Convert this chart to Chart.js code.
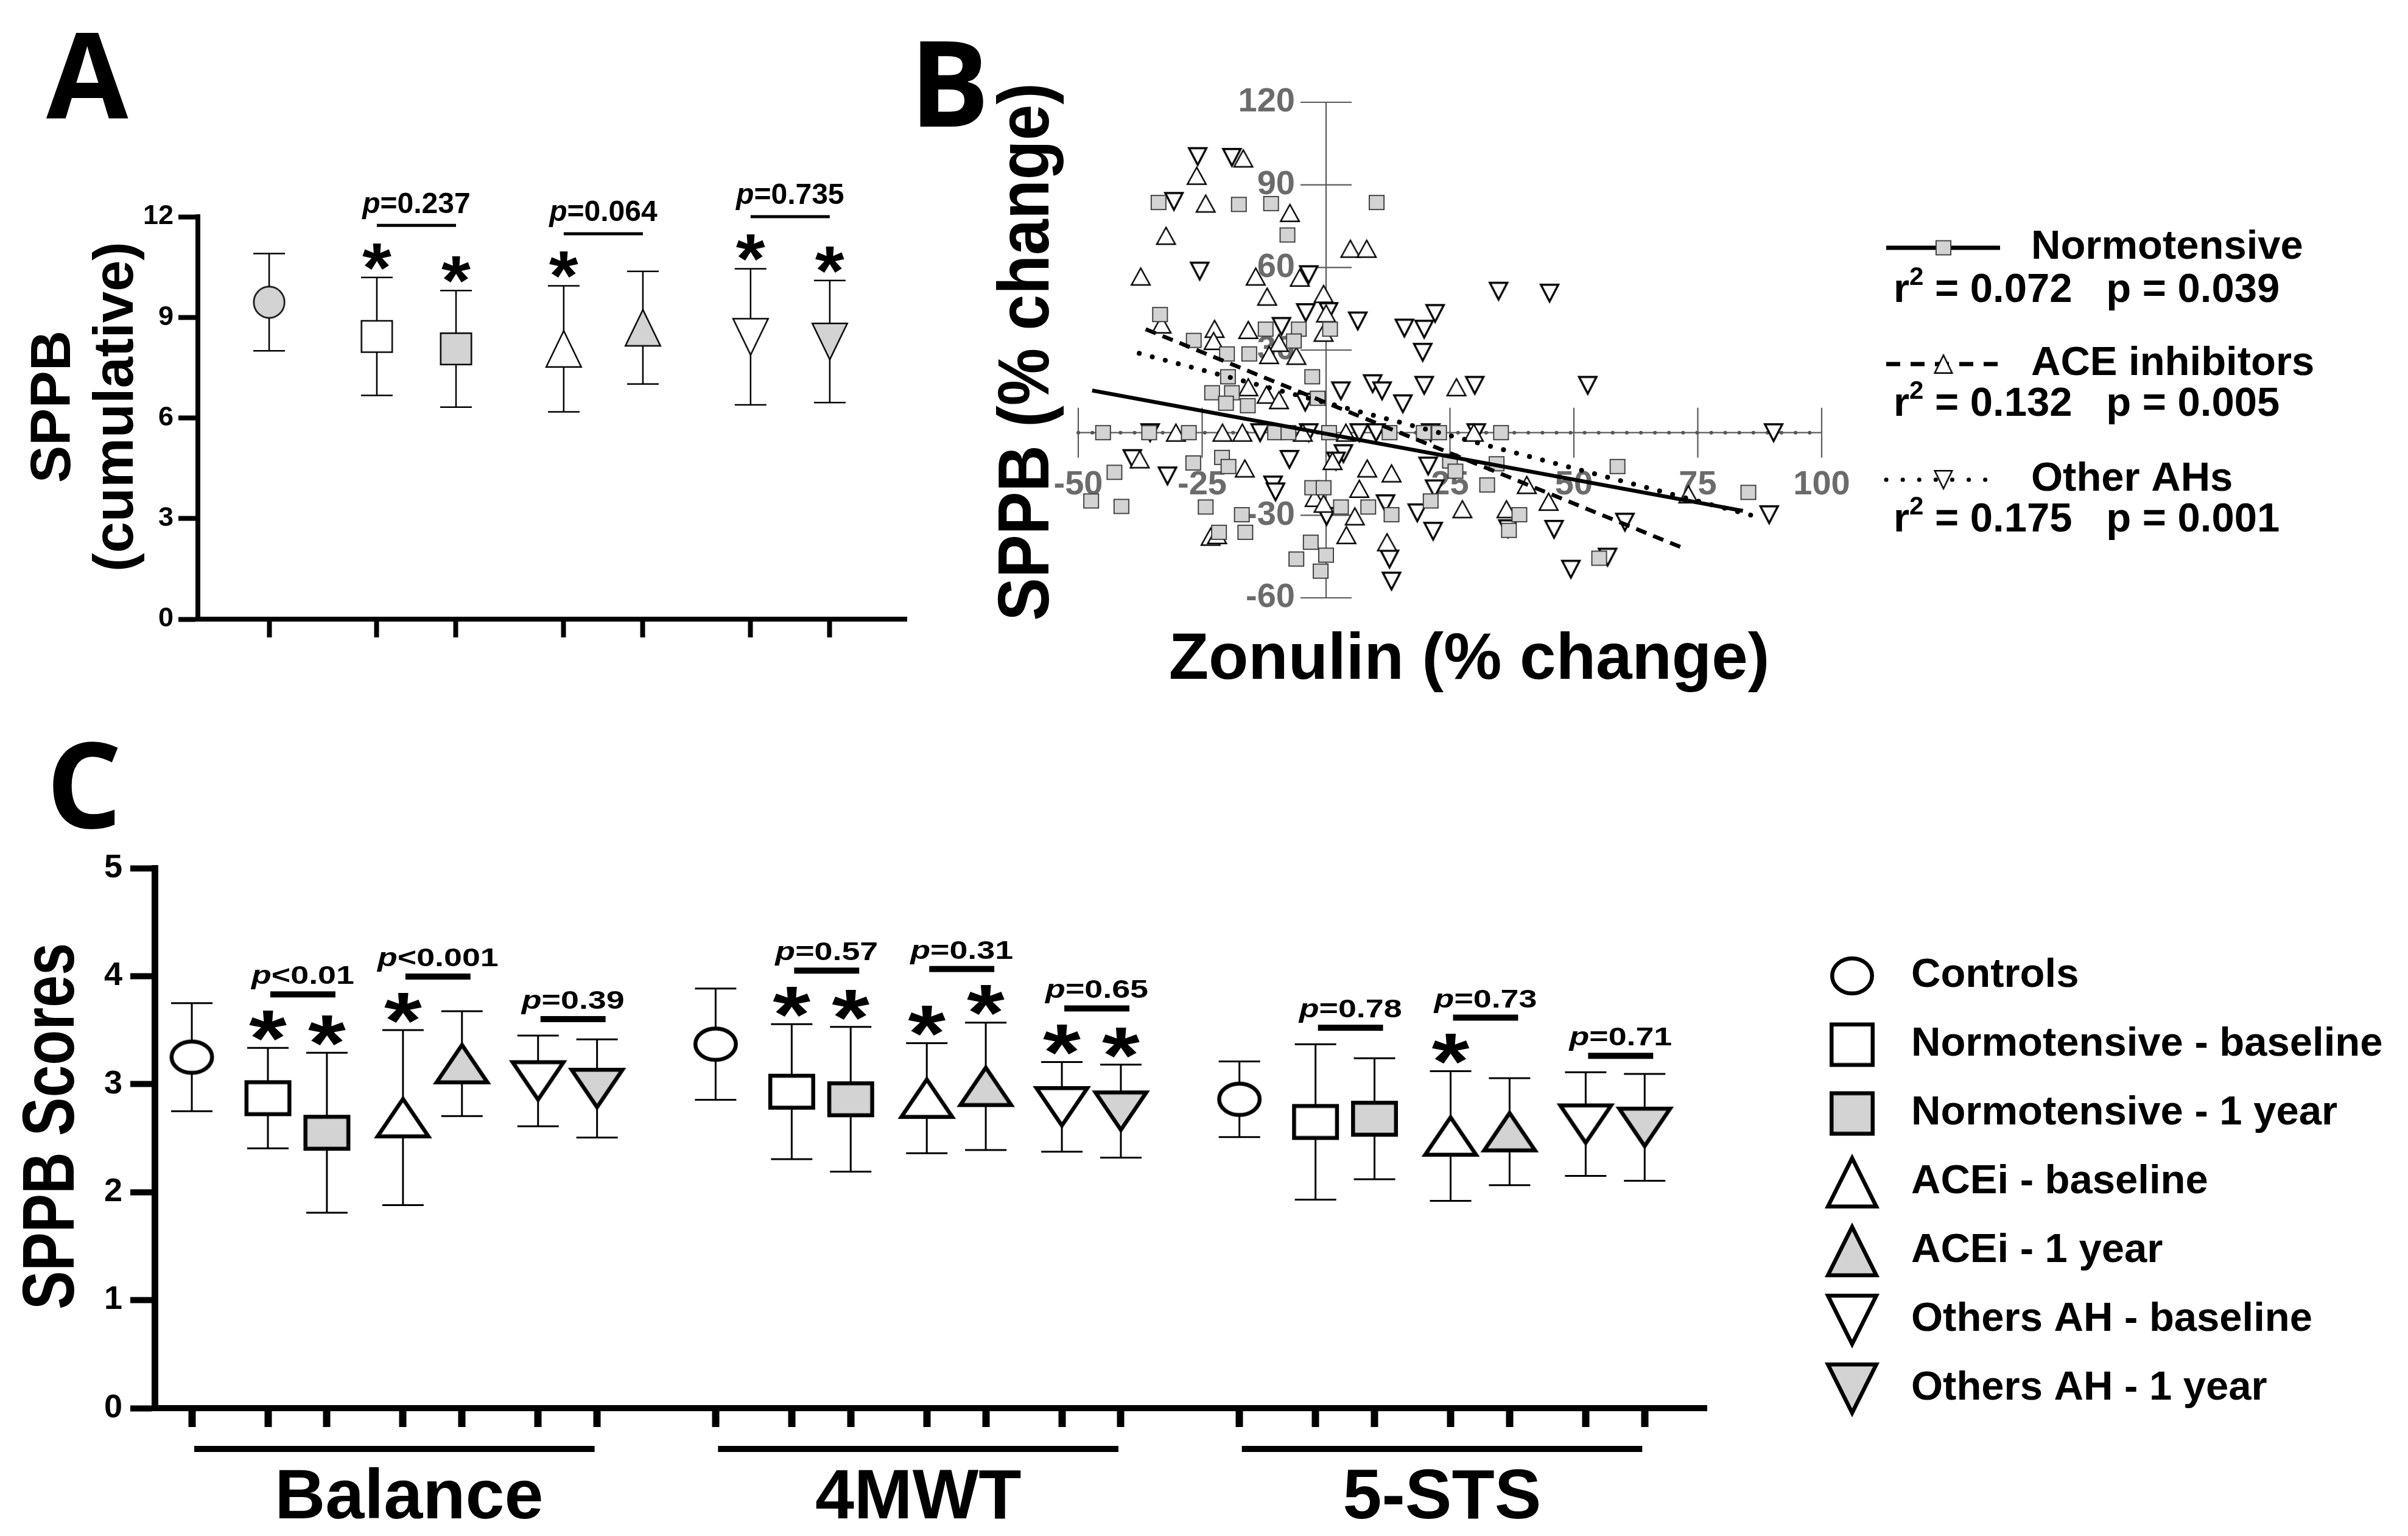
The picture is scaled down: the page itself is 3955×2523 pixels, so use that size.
<!DOCTYPE html>
<html>
<head>
<meta charset="utf-8">
<script src="https://cdn.jsdelivr.net/npm/chart.js@4.4.1/dist/chart.umd.min.js"></script>
<style>
  html, body { margin: 0; padding: 0; background: #fff; }
  body { width: 3955px; height: 2523px; position: relative; overflow: hidden; }
  canvas { position: absolute; }
  #panelA { left: 0; top: 0; }
  #panelB { left: 1450px; top: 0; }
  #panelC { left: 0; top: 1150px; }
</style>
</head>
<body>
<canvas id="panelA" width="1560" height="1150"></canvas>
<canvas id="panelB" width="2505" height="1150"></canvas>
<canvas id="panelC" width="3955" height="1373"></canvas>
<script>
// ---------- Panel A: SPPB cumulative score, mean and SD ----------
const groupNames = ["Controls", "Normotensive - baseline", "Normotensive - 1 year", "ACEi - baseline", "ACEi - 1 year", "Others AH - baseline", "Others AH - 1 year"];
const cumulativeMean = [9.45, 8.43, 8.06, 8.06, 8.69, 8.42, 8.28];
const cumulativeSd = [1.45, 1.76, 1.74, 1.88, 1.68, 2.03, 1.82];
const cumulativeSig = [false, true, true, true, false, true, true];
const cumulativePairP = ["=0.237", "=0.064", "=0.735"];
const cumulativeTicks = [0, 3, 6, 9, 12];

// ---------- Panel B: zonulin vs SPPB, % change ----------
const normoZonulin = [-33.8, -17.6, -11.1, 10.2, -7.8, -33.5, -26.7, -12.2, -5.5, 0.8, -6.5, -20, -15.5, -2.8, -19.8, -23, -19, -20.2, -15.8, -1.7, -45, -35.7, -27.7, -10.3, -7.6, 0.6, 12.8, 19.7, 22.8, 35.3, -26.8, -21, -19.7, -42.7, -47.4, -41.3, -24.3, -17, -21.6, -16.3, -2.8, -0.5, 3, 8.5, 13.2, 21.1, 25, 26.1, 34.4, 32.5, 39, 36.9, 58.8, 85.2, 55.1, -3.1, -6, 0, -1.1];
const normoSppb = [83.6, 82.9, 83.2, 83.6, 71.8, 42.9, 33.5, 37.6, 37.6, 37.6, 33.3, 28.6, 28.6, 20.3, 20.3, 14.5, 14.5, 10.7, 9.8, 12.5, 0, 0, 0, 0, 0, 0, 0, 0, 0, 0, -11, -9, -12.3, -14.4, -24.8, -26.8, -27, -29.8, -36.2, -36.2, -20, -20, -27, -27, -29.8, -24.8, -10.3, -14, -11.3, -19, -29.8, -35.5, -12.3, -21.7, -45.6, -39.8, -45.9, -44.5, -50.3];
const aceZonulin = [-26.1, -16.7, -24.3, -7.3, -32.3, -37.4, -14.2, -5.3, 4.9, 8.2, -11.9, -0.5, 0, -33.2, -22.5, -15.7, -22.7, -9.5, -11.5, -6, -0.5, -15.7, -12, -9.5, 26.3, -30.3, -20.9, -16.9, -4.7, 4, 29.8, -37.6, -16.4, 1.3, 8.3, 13.2, 6.7, -2.3, -0.5, 5.8, 4.1, 12.3, 27.5, 36.4, 40.5, 44.9, 73.1, -23.3, -22];
const aceSppb = [93.3, 99.6, 83.2, 79.8, 71.5, 56.7, 56.7, 56.3, 66.8, 66.8, 49.4, 50.4, 43.3, 39.3, 37.7, 37.3, 33.3, 32.6, 28.2, 27.9, 36.3, 16.5, 13.8, 11.8, 16.5, 0, 0, 0, 0, 0, 0, -9.7, -13, -10.3, -13, -14.8, -20.4, -23.7, -25.8, -30.4, -37.2, -39.8, -27.8, -27.8, -19, -25.1, -22.4, -37.8, -37.2];
const otherZonulin = [-25.9, -19, -30.7, -25.5, -3.5, -4.1, 0.5, 6.4, -9, 15.8, 19.8, 22, 19.5, 34.8, 45.1, 9.4, 11.3, 19.8, 30, 3, -4.2, 15.5, 52.8, -35.5, -13.3, -3.5, 6.7, 10.1, 21.1, 30.3, 90.3, -39.1, -32, -7.4, 3.5, 2, -10.7, -10.2, 20.6, 21.9, 12, 18.4, 0.1, 21.6, 36.7, 46, 60.3, 89.4, 12.8, 13.2, 49.4, 56.8];
const otherSppb = [100.3, 100, 84, 58.7, 57.4, 43.6, 44, 40.6, 38.6, 38, 37.6, 43.3, 29.2, 51.4, 50.7, 17.8, 15.2, 17.2, 17.2, 15.2, 11.1, 10.5, 17.2, 0, 0, 0, 0, 0, 0, 0, 0, -9.4, -15.7, -9.7, -7.6, -10.3, -19, -21.5, -12.1, -20.4, -25.8, -29.1, -30.4, -35.8, -34.9, -35.1, -32.5, -29.8, -45.9, -53.9, -49.6, -45.2];
const fitNames = ["Normotensive", "ACE inhibitors", "Other AHs"];
const fitSlope = [-0.333, -0.733, -0.476];
const fitIntercept = [-0.4, 10.9, 10.85];
const fitFrom = [-47.2, -36.4, -37.7];
const fitTo = [84.1, 72.4, 88.1];
const fitR2 = ["0.072", "0.132", "0.175"];
const fitP = ["0.039", "0.005", "0.001"];
const zonulinTicks = [-50, -25, 25, 50, 75, 100];
const sppbChangeTicks = [-60, -30, 30, 60, 90, 120];

// ---------- Panel C: SPPB sub-scores, mean and SD ----------
const domainNames = ["Balance", "4MWT", "5-STS"];
const balanceMean = [3.25, 2.87, 2.55, 2.69, 3.19, 3.03, 2.96];
const balanceSd = [0.50, 0.465, 0.74, 0.81, 0.485, 0.42, 0.455];
const balanceSig = [false, true, true, true, false, false, false];
const walkMean = [3.37, 2.93, 2.86, 2.87, 2.98, 2.79, 2.75];
const walkSd = [0.515, 0.625, 0.67, 0.51, 0.59, 0.415, 0.43];
const walkSig = [false, true, true, true, true, true, true];
const stsMean = [2.86, 2.65, 2.68, 2.52, 2.56, 2.63, 2.60];
const stsSd = [0.35, 0.72, 0.56, 0.60, 0.495, 0.48, 0.495];
const stsSig = [false, false, false, true, false, false, false];
const domainPairP = [["<0.01", "<0.001", "=0.39"], ["=0.57", "=0.31", "=0.65"], ["=0.78", "=0.73", "=0.71"]];
const scoreTicks = [0, 1, 2, 3, 4, 5];

const FONT = '"Liberation Sans", Arial, Helvetica, sans-serif';
const LETTER_FONT = '"Open Sans", "Liberation Sans", sans-serif';
const GRAY = "#d3d3d3";
const A_BETWEEN = 1.36;
const C_BETWEEN = 1.29;
const DOMAIN_STEP = 8.88;

Chart.defaults.font.family = FONT;

// slot 0 = controls, then three baseline / 1 year pairs
function slotPosition(i, between) {
  if (i === 0) return 0;
  const pair = Math.floor((i - 1) / 2);
  const member = (i - 1) % 2;
  return (pair + 1) * between + pair + member;
}

function makeSymbol(shape, w, h, fill, lw, stroke) {
  const pad = Math.ceil(lw * 2) + 2;
  const c = document.createElement("canvas");
  c.width = Math.ceil(w) + pad * 2;
  c.height = Math.ceil(h) + pad * 2;
  const g = c.getContext("2d");
  g.translate(c.width / 2, c.height / 2);
  const hw = (w - lw) / 2;
  const hh = (h - lw) / 2;
  g.beginPath();
  if (shape === "circle") {
    g.ellipse(0, 0, hw, hh, 0, 0, Math.PI * 2);
  } else if (shape === "square") {
    g.rect(-hw, -hh, hw * 2, hh * 2);
  } else if (shape === "up") {
    g.moveTo(0, -hh); g.lineTo(hw, hh); g.lineTo(-hw, hh); g.closePath();
  } else {
    g.moveTo(0, hh); g.lineTo(hw, -hh); g.lineTo(-hw, -hh); g.closePath();
  }
  g.fillStyle = fill;
  g.fill();
  g.lineWidth = lw;
  g.lineJoin = "miter";
  g.strokeStyle = stroke || "#000";
  g.stroke();
  return c;
}

function symbolSet(sizes, lw, controlFill) {
  return [
    makeSymbol("circle", sizes.circle[0], sizes.circle[1], controlFill, lw),
    makeSymbol("square", sizes.square[0], sizes.square[1], "#fff", lw),
    makeSymbol("square", sizes.square[0], sizes.square[1], GRAY, lw),
    makeSymbol("up", sizes.tri[0], sizes.tri[1], "#fff", lw),
    makeSymbol("up", sizes.tri[0], sizes.tri[1], GRAY, lw),
    makeSymbol("down", sizes.tri[0], sizes.tri[1], "#fff", lw),
    makeSymbol("down", sizes.tri[0], sizes.tri[1], GRAY, lw),
  ];
}

const symbolsA = symbolSet({ circle: [53, 54], square: [53, 54], tri: [60, 62] }, 2.5, GRAY);
const symbolsC = symbolSet({ circle: [73, 58], square: [77, 59], tri: [90, 68] }, 6.5, "#fff");
const legendSymbolsC = symbolSet({ circle: [72, 64], square: [74, 73], tri: [86, 86] }, 6.5, "#fff");
const symbolsB = [
  makeSymbol("square", 26, 25, GRAY, 1.8, "#333"),
  makeSymbol("up", 33, 30, "#fff", 2.4),
  makeSymbol("down", 32, 31, "#fff", 3.4),
];

function fixAxis(scale, dim, value) {
  scale[dim] = value;
  scale.paddingTop = 0;
  scale.paddingBottom = 0;
  scale.paddingLeft = 0;
  scale.paddingRight = 0;
}

function baseOptions(padding) {
  return {
    responsive: false,
    animation: false,
    devicePixelRatio: 1,
    events: [],
    layout: { padding },
    plugins: { legend: { display: false }, tooltip: { enabled: false } },
  };
}

function drawStar(ctx, cx, bottom, w, h) {
  ctx.save();
  ctx.font = `bold 100px ${FONT}`;
  const m = ctx.measureText("*");
  const gw = m.actualBoundingBoxLeft + m.actualBoundingBoxRight;
  const gh = m.actualBoundingBoxAscent + m.actualBoundingBoxDescent;
  ctx.translate(cx, bottom);
  ctx.scale(w / gw, h / gh);
  ctx.textAlign = "left";
  ctx.textBaseline = "alphabetic";
  ctx.fillStyle = "#000";
  ctx.fillText("*", -(m.actualBoundingBoxRight - m.actualBoundingBoxLeft) / 2, -m.actualBoundingBoxDescent);
  ctx.restore();
  return bottom - h;
}

function drawPValue(ctx, cx, baseline, text, size, stretch) {
  ctx.save();
  ctx.translate(cx, baseline);
  ctx.scale(stretch, 1);
  ctx.fillStyle = "#000";
  ctx.textAlign = "left";
  ctx.textBaseline = "alphabetic";
  ctx.font = `italic bold ${size}px ${FONT}`;
  const wp = ctx.measureText("p").width;
  ctx.font = `bold ${size}px ${FONT}`;
  const wr = ctx.measureText(text).width;
  const x0 = -(wp + wr) / 2;
  ctx.font = `italic bold ${size}px ${FONT}`;
  ctx.fillText("p", x0, 0);
  ctx.font = `bold ${size}px ${FONT}`;
  ctx.fillText(text, x0 + wp, 0);
  ctx.restore();
}

function rotatedText(ctx, text, x, y, size, stretch) {
  ctx.save();
  ctx.translate(x, y);
  ctx.rotate(-Math.PI / 2);
  ctx.scale(1, stretch);
  ctx.font = `bold ${size}px ${FONT}`;
  ctx.fillStyle = "#000";
  ctx.textAlign = "center";
  ctx.textBaseline = "alphabetic";
  ctx.fillText(text, 0, 0);
  ctx.restore();
}

function letter(ctx, text, x, baseline) {
  ctx.save();
  ctx.font = `bold 195px ${LETTER_FONT}`;
  ctx.fillStyle = "#000";
  ctx.textAlign = "left";
  ctx.textBaseline = "alphabetic";
  ctx.fillText(text, x, baseline);
  ctx.restore();
}

// error bars, significance stars and paired p-values for panels A and C
function groupPlugin(cfg) {
  return {
    id: cfg.id,
    beforeDatasetsDraw(chart) {
      const { ctx } = chart;
      const y = chart.scales.y;
      const points = chart.getDatasetMeta(0).data;
      ctx.save();
      ctx.strokeStyle = "#000";
      ctx.lineWidth = cfg.errWidth;
      points.forEach((pt, i) => {
        const top = y.getPixelForValue(cfg.means[i] + cfg.sds[i]);
        const bottom = y.getPixelForValue(cfg.means[i] - cfg.sds[i]);
        ctx.beginPath();
        ctx.moveTo(pt.x, top); ctx.lineTo(pt.x, bottom);
        ctx.moveTo(pt.x - cfg.capHalf, top); ctx.lineTo(pt.x + cfg.capHalf, top);
        ctx.moveTo(pt.x - cfg.capHalf, bottom); ctx.lineTo(pt.x + cfg.capHalf, bottom);
        ctx.stroke();
      });
      ctx.restore();
    },
    afterDatasetsDraw(chart) {
      const { ctx } = chart;
      const y = chart.scales.y;
      const points = chart.getDatasetMeta(0).data;
      const tops = points.map((pt, i) => {
        const hi = y.getPixelForValue(cfg.means[i] + cfg.sds[i]);
        if (!cfg.sig[i]) return hi;
        return drawStar(ctx, pt.x, hi - cfg.starGap, cfg.starW, cfg.starH);
      });
      cfg.pairs.forEach((pair) => {
        const a = points[pair.a];
        const b = points[pair.b];
        const top = Math.min(tops[pair.a], tops[pair.b]);
        const barBottom = top - cfg.barGap;
        const x1 = a.x + cfg.barShift[0];
        const x2 = b.x + cfg.barShift[1];
        ctx.fillStyle = "#000";
        ctx.fillRect(x1, barBottom - cfg.barWidth, x2 - x1, cfg.barWidth);
        drawPValue(ctx, (x1 + x2) / 2, barBottom - cfg.barWidth - cfg.textGap, pair.text, cfg.pSize, cfg.pStretch);
      });
    },
  };
}

function categoryAxis(min, max, positions, height, tickLen, tickWidth, borderWidth) {
  return {
    type: "linear",
    min,
    max,
    afterBuildTicks: (s) => { s.ticks = positions.map((v) => ({ value: v })); },
    afterFit: (s) => fixAxis(s, "height", height),
    ticks: { display: false, autoSkip: false },
    grid: { drawOnChartArea: false, drawTicks: true, tickLength: tickLen, tickWidth, tickColor: "#000" },
    border: { display: true, color: "#000", width: borderWidth },
  };
}

function valueAxis(min, max, ticks, width, fontSize, pad, tickLen, tickWidth, borderWidth) {
  return {
    type: "linear",
    min,
    max,
    afterBuildTicks: (s) => { s.ticks = ticks.map((v) => ({ value: v })); },
    afterFit: (s) => fixAxis(s, "width", width),
    ticks: { color: "#000", padding: pad, font: { family: FONT, size: fontSize, weight: "bold" } },
    grid: { drawOnChartArea: false, drawTicks: true, tickLength: tickLen, tickWidth, tickColor: "#000" },
    border: { display: true, color: "#000", width: borderWidth },
  };
}

// ---------- Chart A ----------
const positionsA = groupNames.map((_, i) => slotPosition(i, A_BETWEEN));

new Chart(document.getElementById("panelA"), {
  type: "scatter",
  data: {
    datasets: [{
      label: "SPPB (cumulative)",
      data: cumulativeMean.map((m, i) => ({ x: positionsA[i], y: m })),
      pointStyle: symbolsA,
      pointRadius: 30,
      clip: false,
    }],
  },
  options: {
    ...baseOptions({ left: 0, top: 356, right: 71, bottom: 0 }),
    scales: {
      x: categoryAxis(-0.9, 8.05, positionsA, 133, 30, 8, 8),
      y: valueAxis(0, 12, cumulativeTicks, 325, 45, 8, 32, 8, 8),
    },
  },
  plugins: [
    groupPlugin({
      id: "notesA",
      means: cumulativeMean, sds: cumulativeSd, sig: cumulativeSig,
      pairs: cumulativePairP.map((text, k) => ({ a: 1 + 2 * k, b: 2 + 2 * k, text })),
      errWidth: 2.5, capHalf: 26, starGap: 13, starW: 48, starH: 44,
      barGap: 26, barWidth: 5, barShift: [0, 0], textGap: 18, pSize: 48, pStretch: 1,
    }),
    {
      id: "textA",
      afterDraw(chart) {
        const { ctx } = chart;
        letter(ctx, "A", 76, 194);
        rotatedText(ctx, "SPPB", 115, 668, 92, 1);
        rotatedText(ctx, "(cumulative)", 218, 668, 92, 1);
      },
    },
  ],
});

// ---------- Chart B ----------
function scatterSet(label, xs, ys, symbol) {
  return {
    label,
    data: xs.map((x, i) => ({ x, y: ys[i] })),
    pointStyle: symbol,
    pointRadius: 12,
    clip: false,
    order: 2,
  };
}

const fitDash = [[], [18, 12], [0.1, 22]];
const fitWidth = [6.5, 6.5, 8];
const fitCap = ["butt", "butt", "round"];

function fitSet(k) {
  return {
    type: "line",
    label: fitNames[k] + " fit",
    data: [fitFrom[k], fitTo[k]].map((x) => ({ x, y: fitSlope[k] * x + fitIntercept[k] })),
    borderColor: "#000",
    borderWidth: fitWidth[k],
    borderDash: fitDash[k],
    borderCapStyle: fitCap[k],
    pointRadius: 0,
    fill: false,
    tension: 0,
    clip: false,
    order: 0,
  };
}

const scatterAxes = {
  id: "crossAxes",
  beforeDatasetsDraw(chart) {
    const { ctx } = chart;
    const x = chart.scales.x;
    const y = chart.scales.y;
    const x0 = x.getPixelForValue(0);
    const y0 = y.getPixelForValue(0);
    ctx.save();
    ctx.strokeStyle = "#5a5a5a";
    ctx.lineWidth = 2.2;
    ctx.beginPath();
    ctx.moveTo(x.getPixelForValue(zonulinTicks[0]), y0);
    ctx.lineTo(x.getPixelForValue(zonulinTicks[zonulinTicks.length - 1]), y0);
    ctx.moveTo(x0, y.getPixelForValue(sppbChangeTicks[0]));
    ctx.lineTo(x0, y.getPixelForValue(sppbChangeTicks[sppbChangeTicks.length - 1]));
    zonulinTicks.forEach((v) => {
      const px = x.getPixelForValue(v);
      ctx.moveTo(px, y0 - 41); ctx.lineTo(px, y0 + 41);
    });
    sppbChangeTicks.forEach((v) => {
      const py = y.getPixelForValue(v);
      ctx.moveTo(x0 - 42, py); ctx.lineTo(x0 + 42, py);
    });
    ctx.stroke();
    // dotted reference along zero change
    ctx.setLineDash([0.1, 23]);
    ctx.lineCap = "round";
    ctx.lineWidth = 6;
    ctx.strokeStyle = "#555";
    ctx.beginPath();
    ctx.moveTo(x.getPixelForValue(zonulinTicks[0]), y0);
    ctx.lineTo(x.getPixelForValue(zonulinTicks[zonulinTicks.length - 1]), y0);
    ctx.stroke();
    ctx.setLineDash([]);
    ctx.fillStyle = "#6b6b6b";
    ctx.font = `bold 56px ${FONT}`;
    ctx.textBaseline = "middle";
    ctx.textAlign = "center";
    zonulinTicks.forEach((v) => ctx.fillText(String(v), x.getPixelForValue(v), y0 + 86));
    ctx.textAlign = "right";
    sppbChangeTicks.forEach((v) => ctx.fillText(String(v), x0 - 51, y.getPixelForValue(v)));
    ctx.restore();
  },
};

function drawFitLegend(ctx, k, lineY) {
  ctx.save();
  ctx.strokeStyle = "#000";
  ctx.lineWidth = k === 2 ? 7 : 7;
  ctx.lineCap = k === 2 ? "round" : "butt";
  ctx.setLineDash([[], [23, 17], [0.1, 27]][k]);
  ctx.beginPath();
  ctx.moveTo(1648, lineY);
  ctx.lineTo(1835, lineY);
  ctx.stroke();
  ctx.setLineDash([]);
  const sym = k === 0 ? symbolsB[0] : makeSymbol(k === 1 ? "up" : "down", 31, 32, "#fff", 2.5);
  ctx.drawImage(sym, 1742 - sym.width / 2, lineY - sym.height / 2);
  ctx.fillStyle = "#000";
  ctx.textAlign = "left";
  ctx.textBaseline = "middle";
  ctx.font = `bold 67px ${FONT}`;
  ctx.fillText(fitNames[k], 1886, lineY);
  // r squared and p line
  const statY = lineY + (k === 0 ? 71 : 67);
  let x = 1660;
  ctx.fillText("r", x, statY);
  x += ctx.measureText("r").width;
  ctx.font = `bold 42px ${FONT}`;
  ctx.fillText("2", x, statY - 22);
  x += ctx.measureText("2").width;
  ctx.font = `bold 67px ${FONT}`;
  ctx.fillText(` = ${fitR2[k]}   p = ${fitP[k]}`, x, statY);
  ctx.restore();
}

new Chart(document.getElementById("panelB"), {
  type: "scatter",
  data: {
    datasets: [
      scatterSet("Normotensive", normoZonulin, normoSppb, symbolsB[0]),
      scatterSet("ACE inhibitors", aceZonulin, aceSppb, symbolsB[1]),
      scatterSet("Other AHs", otherZonulin, otherSppb, symbolsB[2]),
      fitSet(0),
      fitSet(1),
      fitSet(2),
    ],
  },
  options: {
    ...baseOptions({ left: 321, top: 168, right: 963, bottom: 168 }),
    scales: {
      x: { type: "linear", min: -50, max: 100, display: false },
      y: { type: "linear", min: -60, max: 120, display: false },
    },
  },
  plugins: [
    scatterAxes,
    {
      id: "textB",
      afterDraw(chart) {
        const { ctx } = chart;
        letter(ctx, "B", 44, 208);
        rotatedText(ctx, "SPPB (% change)", 272, 578, 106, 1.12);
        ctx.save();
        ctx.font = `bold 107px ${FONT}`;
        ctx.fillStyle = "#000";
        ctx.textAlign = "center";
        ctx.textBaseline = "alphabetic";
        ctx.fillText("Zonulin (% change)", 963, 1115);
        ctx.restore();
        [407, 598, 788].forEach((lineY, k) => drawFitLegend(ctx, k, lineY));
      },
    },
  ],
});

// ---------- Chart C ----------
const domainMeans = [balanceMean, walkMean, stsMean];
const domainSds = [balanceSd, walkSd, stsSd];
const domainSig = [balanceSig, walkSig, stsSig];
const positionsC = [];
const symbolsCAll = [];
domainNames.forEach((_, d) => {
  groupNames.forEach((__, i) => {
    positionsC.push(d * DOMAIN_STEP + slotPosition(i, C_BETWEEN));
    symbolsCAll.push(symbolsC[i]);
  });
});
const meansC = domainMeans.flat();
const sdsC = domainSds.flat();
const sigC = domainSig.flat();
const pairsC = [];
domainPairP.forEach((texts, d) => {
  texts.forEach((text, k) => pairsC.push({ a: d * 7 + 1 + 2 * k, b: d * 7 + 2 + 2 * k, text }));
});

new Chart(document.getElementById("panelC"), {
  type: "scatter",
  data: {
    datasets: [{
      label: "SPPB Scores",
      data: meansC.map((m, i) => ({ x: positionsC[i], y: m })),
      pointStyle: symbolsCAll,
      pointRadius: 40,
      clip: false,
    }],
  },
  options: {
    ...baseOptions({ left: 0, top: 276, right: 1152, bottom: 0 }),
    scales: {
      x: categoryAxis(-0.63, 25.68, positionsC, 210, 31, 12, 10),
      y: valueAxis(0, 5, scoreTicks, 254, 54, 13, 40, 10, 11),
    },
  },
  plugins: [
    groupPlugin({
      id: "notesC",
      means: meansC, sds: sdsC, sig: sigC, pairs: pairsC,
      errWidth: 3, capHalf: 34, starGap: 11, starW: 62, starH: 50,
      barGap: 22, barWidth: 10, barShift: [4, 14], textGap: 12, pSize: 43, pStretch: 1.25,
    }),
    {
      id: "textC",
      afterDraw(chart) {
        const { ctx } = chart;
        const x = chart.scales.x;
        letter(ctx, "C", 76, 210);
        rotatedText(ctx, "SPPB Scores", 121, 700, 95, 1.27);
        ctx.save();
        ctx.fillStyle = "#000";
        domainNames.forEach((name, d) => {
          const first = x.getPixelForValue(d * DOMAIN_STEP);
          const last = x.getPixelForValue(d * DOMAIN_STEP + slotPosition(6, C_BETWEEN));
          ctx.fillRect(first + 4, 1225, last - first - 8, 10);
          ctx.font = `bold 115px ${FONT}`;
          ctx.textAlign = "center";
          ctx.textBaseline = "alphabetic";
          ctx.fillText(name, (first + last) / 2 + (d === 0 ? 24 : 0), 1344);
        });
        ctx.font = `bold 67px ${FONT}`;
        ctx.textAlign = "left";
        ctx.textBaseline = "middle";
        groupNames.forEach((name, i) => {
          const rowY = 453 + i * 113;
          const sym = legendSymbolsC[i];
          ctx.drawImage(sym, 3042 - sym.width / 2, rowY - sym.height / 2);
          ctx.fillText(name, 3139, rowY);
        });
        ctx.restore();
      },
    },
  ],
});
</script>
</body>
</html>
